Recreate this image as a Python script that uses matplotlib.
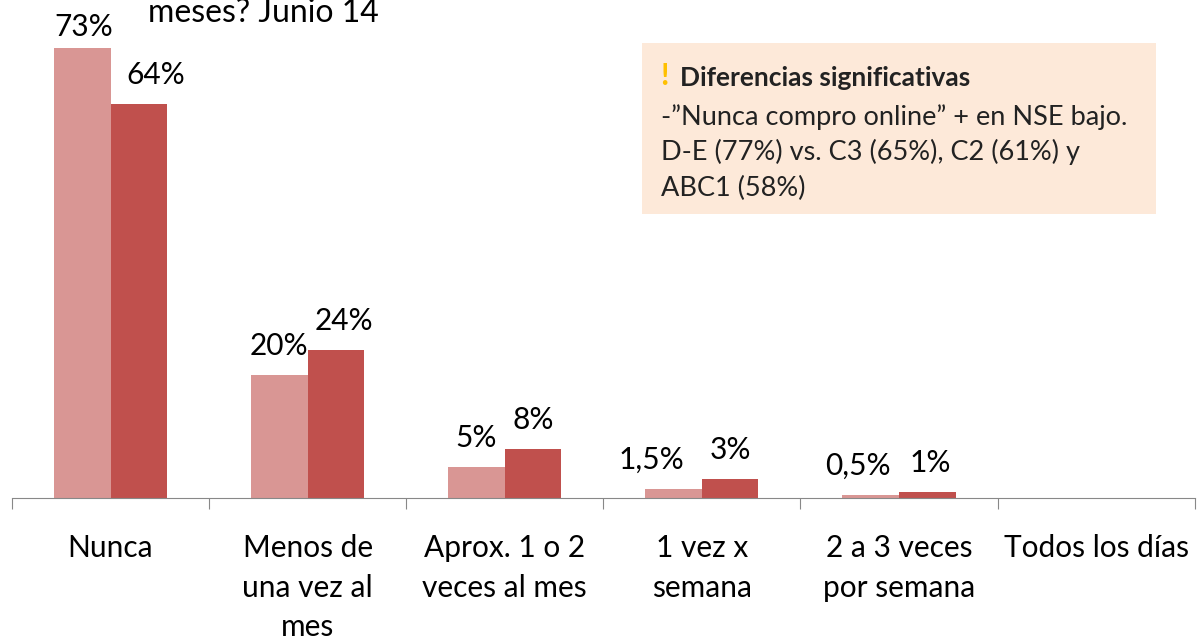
import matplotlib.pyplot as plt
import numpy as np

categories = ["Nunca", "Menos de\nuna vez al\nmes", "Aprox. 1 o 2\nveces al mes",
              "1 vez x\nsemana", "2 a 3 veces\npor semana", "Todos los días"]
serie_a = [73, 20, 5, 1.5, 0.5, 0]
serie_b = [64, 24, 8, 3, 1, 0]
labels_a = ["73%", "20%", "5%", "1,5%", "0,5%", ""]
labels_b = ["64%", "24%", "8%", "3%", "1%", ""]
# horizontal nudges of the data labels (points)
nudge_a = [1, 0, 0, -16, -9, 0]
nudge_b = [12, 6, 0, 0, 2, 0]

color_a = "#D99694"
color_b = "#C0504D"

plt.rcParams["font.family"] = ["Lato", "DejaVu Sans"]

fig = plt.figure(figsize=(11.97, 6.4), dpi=100)
ax = fig.add_axes([0.01, 0.222, 0.988, 0.77])

x = np.arange(len(categories))
w = 0.287
bars_a = ax.bar(x - w / 2, serie_a, w, color=color_a)
bars_b = ax.bar(x + w / 2, serie_b, w, color=color_b)

for bars, labs, nudges in [(bars_a, labels_a, nudge_a), (bars_b, labels_b, nudge_b)]:
    for bar, lab, dx in zip(bars, labs, nudges):
        if lab:
            y = min(bar.get_height() + 4.7, 76.5)
            ax.annotate(lab, (bar.get_x() + bar.get_width() / 2, y),
                        xytext=(dx, 0), textcoords="offset points",
                        ha="center", va="center", fontsize=21.5)

ax.set_xlim(-0.5, len(categories) - 0.5)
ax.set_ylim(0, 80)
for s in ["top", "right", "left"]:
    ax.spines[s].set_visible(False)
ax.spines["bottom"].set_color("#888888")
ax.set_yticks([])

ax.set_xticks(np.arange(len(categories) + 1) - 0.5, minor=False)
ax.set_xticklabels([])
ax.tick_params(axis="x", direction="out", length=8, color="#888888")
for i, cat in enumerate(categories):
    ax.text(i, -5.9, cat, ha="center", va="top", fontsize=21.5, linespacing=1.5)

fig.text(0.124, 0.98, "meses? Junio 14", fontsize=23, ha="left", va="center")

box = plt.Rectangle((642 / 1197, 1 - 214 / 640), 514 / 1197, 171 / 640,
                    transform=fig.transFigure, facecolor="#FDE9D9", edgecolor="none")
fig.patches.append(box)
fig.text(660 / 1197, 1 - 76 / 640, "!", color="#FFC000", fontsize=22,
         fontweight="bold", va="center")
fig.text(680 / 1197, 1 - 78 / 640, "Diferencias significativas", fontsize=19,
         fontweight="bold", color="#222222", va="center")
fig.text(661 / 1197, 1 - 117 / 640, "-\u201dNunca compro online\u201d + en NSE bajo.",
         fontsize=19.5, color="#222222", va="center")
fig.text(661 / 1197, 1 - 152 / 640, "D-E (77%) vs. C3 (65%), C2 (61%) y",
         fontsize=19.5, color="#222222", va="center")
fig.text(661 / 1197, 1 - 188 / 640, "ABC1 (58%)",
         fontsize=19.5, color="#222222", va="center")

fig.savefig("out.png", dpi=100)
